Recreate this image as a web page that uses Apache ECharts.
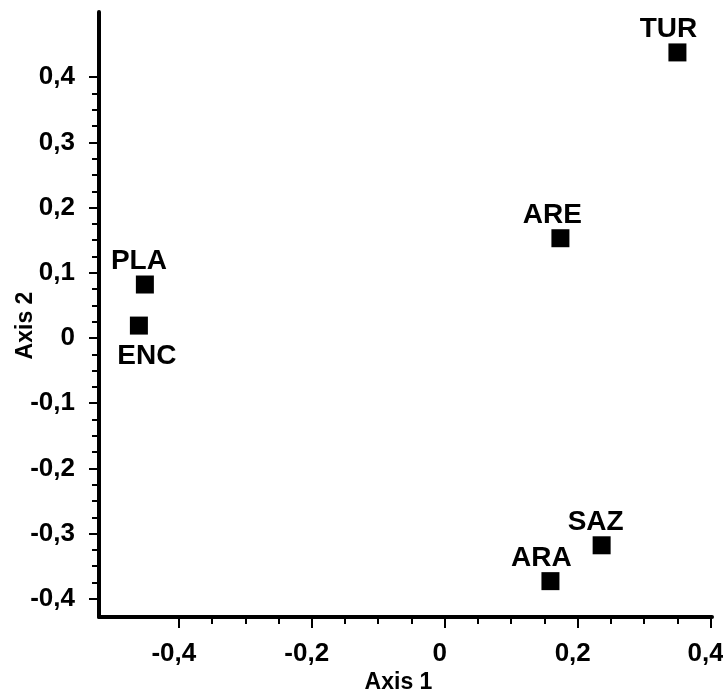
<!DOCTYPE html>
<html>
<head>
<meta charset="utf-8">
<script src="https://cdn.jsdelivr.net/npm/echarts@6/dist/echarts.min.js"></script>
<style>
  html, body { margin: 0; padding: 0; background: #fff; }
  #chart { width: 723px; height: 692px; }
</style>
</head>
<body>
<div id="chart"></div>
<script>
  // site names and their scores on the two axes
  var sites = ['TUR', 'ARE', 'PLA', 'ENC', 'SAZ', 'ARA'];
  var axis1 = [0.350, 0.174, -0.451, -0.460, 0.236, 0.159];
  var axis2 = [0.438, 0.153, 0.082, 0.019, -0.318, -0.373];

  // tick values
  var xMajor = [-0.4, -0.2, 0, 0.2, 0.4];
  var xMinor = [-0.35, -0.3, -0.25, -0.15, -0.1, -0.05, 0.05, 0.1, 0.15, 0.25, 0.3, 0.35];
  var yMajor = [-0.4, -0.3, -0.2, -0.1, 0, 0.1, 0.2, 0.3, 0.4];
  var yMinor = [-0.375, -0.35, -0.325, -0.275, -0.25, -0.225, -0.175, -0.15, -0.125,
    -0.075, -0.05, -0.025, 0.025, 0.05, 0.075, 0.125, 0.15, 0.175,
    0.225, 0.25, 0.275, 0.325, 0.35, 0.375];

  // where each label sits around its square
  var labelPlace = {
    TUR: { position: 'top', offset: [-9, 0] },
    ARE: { position: 'top', offset: [-8, 0] },
    PLA: { position: 'top', offset: [-6, 0] },
    ENC: { position: 'bottom', offset: [8, 8] },
    SAZ: { position: 'top', offset: [-6, 0] },
    ARA: { position: 'top', offset: [-9, 0] }
  };

  var font = 'Liberation Sans, Arial, sans-serif';
  var fmt = function (v) { return String(v).replace('.', ','); };

  var chart = echarts.init(document.getElementById('chart'));

  var points = sites.map(function (name, i) {
    var p = labelPlace[name];
    return {
      name: name,
      value: [axis1[i], axis2[i]],
      label: { position: p.position, offset: p.offset }
    };
  });

  var xRange = { min: -0.52, max: 0.402 };
  var yRange = { min: -0.428, max: 0.5 };

  chart.setOption({
    animation: false,
    grid: { left: 99, right: 11, top: 12, bottom: 75, outerBoundsMode: 'none', containLabel: false },
    xAxis: [
      {
        type: 'value',
        min: xRange.min,
        max: xRange.max,
        name: 'Axis 1',
        nameLocation: 'middle',
        nameGap: 54,
        nameMoveOverlap: false,
        nameTextStyle: { fontFamily: font, fontWeight: 'bold', fontSize: 23, color: '#000', padding: [0, 14, 0, 0] },
        axisLine: { onZero: false, lineStyle: { color: '#000', width: 4 } },
        axisTick: { customValues: xMajor, length: 11, lineStyle: { color: '#000', width: 2 } },
        axisLabel: {
          customValues: xMajor,
          margin: 24,
          formatter: fmt,
          fontFamily: font, fontWeight: 'bold', fontSize: 26, color: '#000',
          padding: [0, 10, 0, 0]
        },
        splitLine: { show: false }
      },
      {
        type: 'value',
        position: 'bottom',
        min: xRange.min,
        max: xRange.max,
        axisLine: { show: false, onZero: false },
        axisTick: { customValues: xMinor, length: 7, lineStyle: { color: '#000', width: 2 } },
        axisLabel: { show: false },
        splitLine: { show: false }
      }
    ],
    yAxis: [
      {
        type: 'value',
        min: yRange.min,
        max: yRange.max,
        name: 'Axis 2',
        nameLocation: 'middle',
        nameGap: 62,
        nameRotate: 90,
        nameMoveOverlap: false,
        nameTextStyle: { fontFamily: font, fontWeight: 'bold', fontSize: 23, color: '#000', padding: [0, 22, 0, 0] },
        axisLine: { onZero: false, lineStyle: { color: '#000', width: 4 } },
        axisTick: { customValues: yMajor, length: 10, lineStyle: { color: '#000', width: 2 } },
        axisLabel: {
          customValues: yMajor,
          margin: 24,
          formatter: fmt,
          fontFamily: font, fontWeight: 'bold', fontSize: 26, color: '#000'
        },
        splitLine: { show: false }
      },
      {
        type: 'value',
        position: 'left',
        min: yRange.min,
        max: yRange.max,
        axisLine: { show: false, onZero: false },
        axisTick: { customValues: yMinor, length: 7, lineStyle: { color: '#000', width: 2 } },
        axisLabel: { show: false },
        splitLine: { show: false }
      }
    ],
    series: [
      {
        type: 'scatter',
        xAxisIndex: 0,
        yAxisIndex: 0,
        symbol: 'rect',
        symbolSize: 18,
        itemStyle: { color: '#000', opacity: 1 },
        label: {
          show: true,
          formatter: '{b}',
          distance: 0,
          fontFamily: font,
          fontWeight: 'bold',
          fontSize: 28,
          color: '#000',
          opacity: 1
        },
        data: points
      }
    ]
  });
</script>
</body>
</html>
